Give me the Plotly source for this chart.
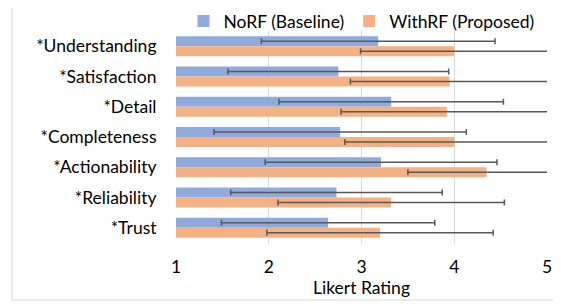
import plotly.graph_objects as go

categories = ["*Understanding", "*Satisfaction", "*Detail", "*Completeness",
              "*Actionability", "*Reliability", "*Trust"]
norf_mean = [3.18, 2.75, 3.32, 2.77, 3.21, 2.73, 2.64]
norf_sd = [1.26, 1.19, 1.21, 1.36, 1.25, 1.14, 1.15]
withrf_mean = [4.00, 3.95, 3.92, 4.00, 4.35, 3.32, 3.20]
withrf_sd = [1.01, 1.07, 1.14, 1.18, 0.85, 1.22, 1.22]
x_ticks = [1, 2, 3, 4, 5]

FONT = "Lato"
FS = 17.5
err_style = dict(type="data", visible=True, color="#595959", thickness=1.5, width=3)

# page body has an 8px default margin, so the figure is offset by 8px
L, T, PW, PH = 168, 23, 371, 212
W, H = 561, 306

fig = go.Figure()
fig.add_trace(go.Bar(
    y=categories, x=norf_mean, orientation="h", name="NoRF (Baseline)",
    marker=dict(color="#8FAADC", line=dict(width=0)),
    error_x=dict(array=norf_sd, **err_style),
))
fig.add_trace(go.Bar(
    y=categories, x=withrf_mean, orientation="h", name="WithRF (Proposed)",
    marker=dict(color="#F4B183", line=dict(width=0)),
    error_x=dict(array=withrf_sd, **err_style),
))

fig.update_layout(
    width=W, height=H,
    margin=dict(l=L, r=W - L - PW, t=T, b=H - T - PH, autoexpand=False),
    paper_bgcolor="white", plot_bgcolor="white",
    barmode="group", bargap=0.34, bargroupgap=0,
    font=dict(family=FONT, size=FS, color="#000000"),
    showlegend=True,
    legend=dict(orientation="h", x=0.5, xanchor="center", y=1 - 8 / PH, yanchor="bottom",
                font=dict(size=FS, family=FONT), itemwidth=30, traceorder="normal",
                bgcolor="rgba(0,0,0,0)"),
    xaxis=dict(range=[1, 5], tickvals=x_ticks, showgrid=True, gridcolor="#D9D9D9",
               gridwidth=1, zeroline=False, showline=False,
               ticks="outside", ticklen=8, tickcolor="rgba(0,0,0,0)",
               tickfont=dict(size=FS, family=FONT),
               title=dict(text="Likert Rating", font=dict(size=FS, family=FONT), standoff=0)),
    yaxis=dict(autorange="reversed", showgrid=False, showline=False, zeroline=False,
               ticks="outside", ticklen=15, tickcolor="rgba(0,0,0,0)",
               tickfont=dict(size=FS, family=FONT)),
    shapes=[dict(type="rect", xref="paper", yref="paper",
                 x0=(4 - L) / PW, x1=(550 - L) / PW,
                 y0=(T + PH - 292) / PH, y1=(T + PH + 5) / PH,
                 line=dict(color="#D9D9D9", width=1), layer="below")],
)

fig.write_html("out.html")
